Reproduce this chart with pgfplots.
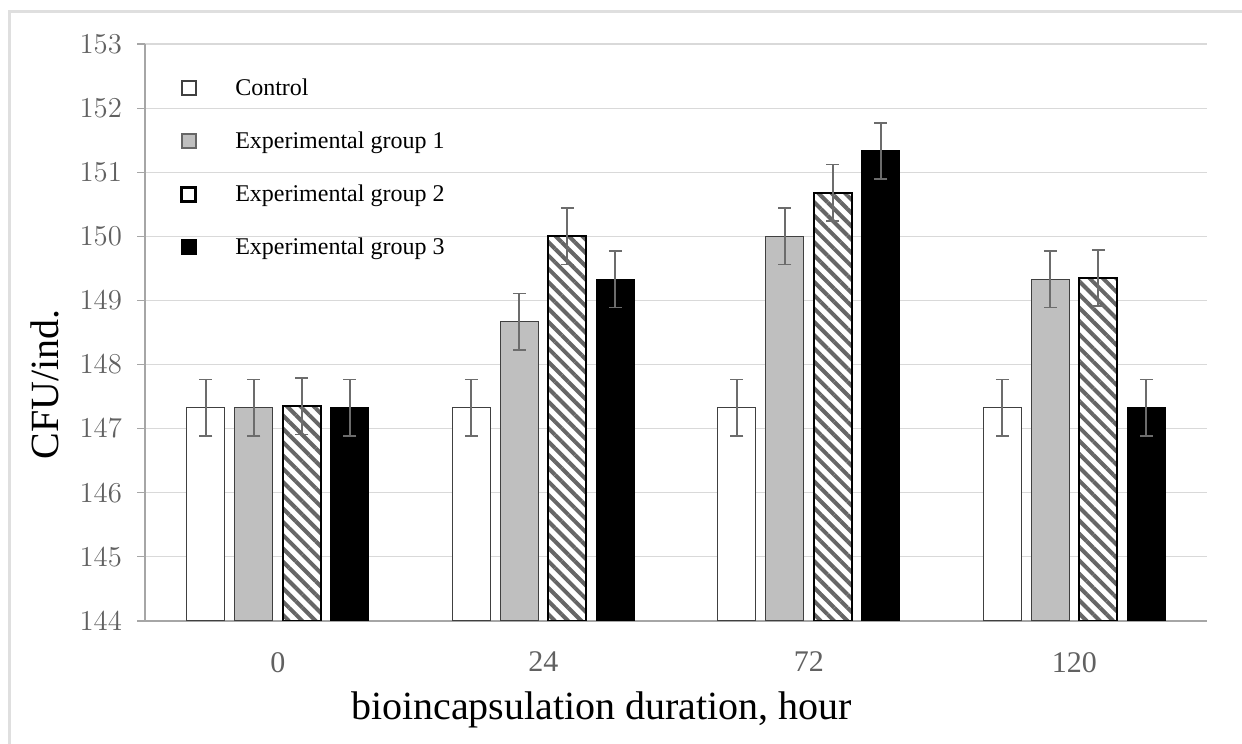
\documentclass[border=0pt]{standalone}
\usepackage{pgfplots}
\pgfplotsset{compat=1.18}
\usepackage{fontspec}
\setmainfont{Liberation Serif}
\usetikzlibrary{patterns.meta}
\begin{document}
\begin{tikzpicture}
\useasboundingbox (0,0) rectangle (621pt,372pt);
\draw[gray!25, line width=1.5pt] (4.5pt,0) -- (4.5pt,366pt) -- (621pt,366pt);
\begin{axis}[
  at={(72.5pt,61.5pt)}, anchor=south west,
  scale only axis, width=531pt, height=288.5pt,
  xmin=-0.5, xmax=3.5, ymin=144, ymax=153,
  ytick={144,145,...,153},
  xtick={0,1,2,3}, xticklabels={0,24,72,120},
  ybar=5pt, bar width=19pt,
  ymajorgrids, grid style={gray!30, line width=0.6pt},
  axis lines*=left,
  axis line style={-, gray!70, line width=0.8pt},
  xtick style={draw=none},
  ytick style={gray!70, line width=0.6pt},
  tick align=outside, major tick length=4pt,
  tick label style={font=\fontsize{15}{17}\selectfont, text=black!62},
  yticklabel style={xshift=-4pt},
  xticklabel style={yshift=-8pt},
  xlabel={bioincapsulation duration, hour},
  ylabel={CFU/ind.},
  xlabel style={at={(axis description cs:0.43,0)}, anchor=center, yshift=-44.5pt, font=\fontsize{20}{24}\selectfont},
  ylabel style={at={(axis description cs:-0.094,0.41)}, anchor=center, font=\fontsize{20}{24}\selectfont},
  legend style={at={(0.033,0.97)}, anchor=north west, draw=none, fill=none, inner sep=0pt,
    row sep=0pt, column sep=19pt,
    nodes={minimum height=26.5pt, inner sep=0pt, anchor=west, font=\fontsize{12}{14}\selectfont}},
  legend cell align=left,
  error bars/error bar style={gray!85!black, line width=0.8pt},
  error bars/error mark options={rotate=90, gray!85!black, mark size=3.25pt, line width=0.8pt},
]
\addplot[fill=white, draw=black!75, line width=0.6pt,
  legend image code/.code={\draw[fill=white,draw=black!75,line width=0.8pt] (0pt,-3.5pt) rectangle (7pt,3.5pt);},
  error bars/.cd, y dir=both, y explicit]
  coordinates {(0,147.33) +- (0,0.44) (1,147.33) +- (0,0.44) (2,147.33) +- (0,0.44) (3,147.33) +- (0,0.44)};
\addlegendentry{Control}
\addplot[fill=gray!50, draw=black!75, line width=0.6pt,
  legend image code/.code={\draw[fill=gray!50,draw=black!60,line width=0.8pt] (0pt,-3.5pt) rectangle (7pt,3.5pt);},
  error bars/.cd, y dir=both, y explicit]
  coordinates {(0,147.33) +- (0,0.44) (1,148.67) +- (0,0.44) (2,150.0) +- (0,0.44) (3,149.33) +- (0,0.44)};
\addlegendentry{Experimental group 1}
\addplot[preaction={fill=white}, pattern={Lines[angle=-45,distance=4.7pt,line width=2pt]}, pattern color=black!60, draw=black, line width=1.1pt,
  legend image code/.code={\draw[fill=white,draw=black,line width=1.4pt] (0pt,-3.5pt) rectangle (7pt,3.5pt);},
  error bars/.cd, y dir=both, y explicit]
  coordinates {(0,147.35) +- (0,0.44) (1,150.0) +- (0,0.44) (2,150.68) +- (0,0.44) (3,149.35) +- (0,0.44)};
\addlegendentry{Experimental group 2}
\addplot[fill=black, draw=black, line width=0.6pt,
  legend image code/.code={\draw[fill=black,draw=black,line width=0.8pt] (0pt,-3.5pt) rectangle (7pt,3.5pt);},
  error bars/.cd, y dir=both, y explicit]
  coordinates {(0,147.33) +- (0,0.44) (1,149.33) +- (0,0.44) (2,151.33) +- (0,0.44) (3,147.33) +- (0,0.44)};
\addlegendentry{Experimental group 3}
\end{axis}
\end{tikzpicture}
\end{document}
